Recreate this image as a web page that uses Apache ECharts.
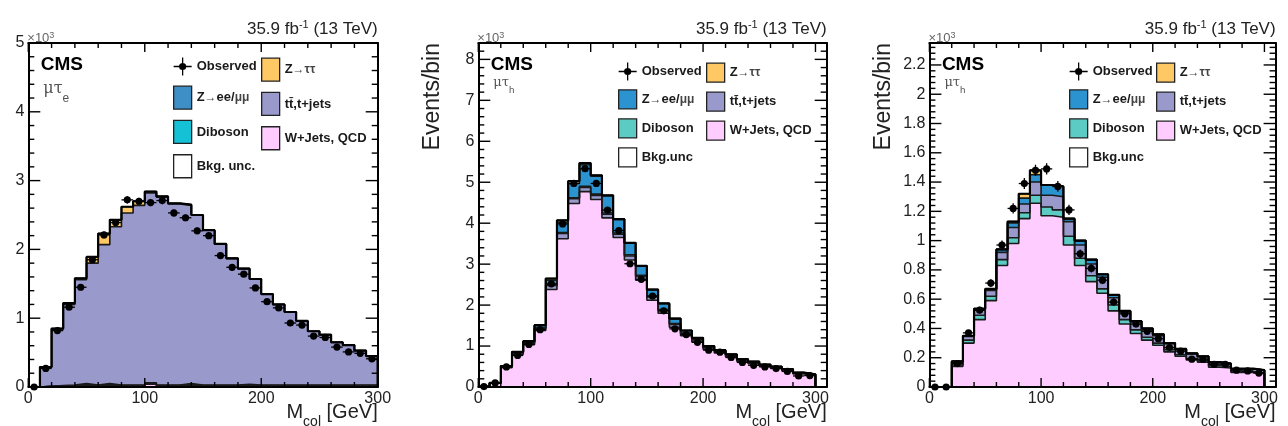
<!DOCTYPE html>
<html>
<head>
<meta charset="utf-8">
<script src="https://cdn.jsdelivr.net/npm/echarts@6/dist/echarts.min.js"></script>
<style>
  html, body { margin: 0; padding: 0; background: #fff; }
  #chart { width: 1288px; height: 426px; }
</style>
</head>
<body>
<div id="chart"></div>
<script>
// low edge of each 10 GeV bin of M_col
const binWidth = 10;
const binLow = [0, 10, 20, 30, 40, 50, 60, 70, 80, 90, 100, 110, 120, 130, 140, 150,
  160, 170, 180, 190, 200, 210, 220, 230, 240, 250, 260, 270, 280, 290];

// events/bin in units of 10^3
// mu tau_e
const obsE = [0, 0.27, 0.82, 1.16, 1.45, 1.85, 2.21, 2.39, 2.72, 2.70, 2.68, 2.71, 2.53, 2.46, 2.27,
  2.20, 1.91, 1.74, 1.64, 1.44, 1.24, 1.15, 0.93, 0.90, 0.74, 0.72, 0.58, 0.51, 0.49, 0.41];
const wjE = [0, 0.01, 0.01, 0.01, 0.03, 0.01, 0.03, 0.01, 0.01, 0.01, 0.04, 0.01, 0.01, 0.03, 0.01,
  0.01, 0.01, 0.01, 0.02, 0.01, 0.01, 0.01, 0.01, 0.01, 0.01, 0.01, 0.01, 0.01, 0.01, 0.01];
const dibE = [0, 0, 0, 0.01, 0.01, 0.01, 0.01, 0.01, 0.01, 0.01, 0.01, 0.01, 0.01, 0.01, 0.01,
  0.01, 0.01, 0.01, 0.01, 0.01, 0.01, 0.01, 0.01, 0.01, 0.01, 0.01, 0.01, 0.01, 0.01, 0.01];
const zllE = [0, 0, 0.01, 0.01, 0.01, 0.01, 0.01, 0.01, 0.01, 0.01, 0.01, 0.01, 0.01, 0.01, 0.01,
  0.01, 0.01, 0.01, 0.01, 0.01, 0.01, 0.01, 0.01, 0.01, 0.01, 0.01, 0.01, 0.01, 0.01, 0.01];
const ttE = [0, 0.28, 0.82, 1.17, 1.51, 1.77, 2.02, 2.30, 2.50, 2.61, 2.76, 2.73, 2.63, 2.59, 2.47,
  2.25, 2.05, 1.84, 1.68, 1.54, 1.32, 1.17, 1.06, 0.93, 0.78, 0.73, 0.62, 0.58, 0.50, 0.42];
const zttE = [0, 0, 0.01, 0.02, 0.02, 0.09, 0.16, 0.10, 0.09, 0.06, 0.02, 0.01, 0.01, 0.01, 0,
  0, 0, 0, 0, 0, 0, 0, 0, 0, 0, 0, 0, 0, 0, 0];

// mu tau_h (middle)
const obsH = [0.01, 0.10, 0.49, 0.77, 1.04, 1.40, 2.52, 3.98, 4.97, 5.33, 4.97, 4.32, 3.82, 3.01, 2.63,
  2.22, 1.86, 1.42, 1.28, 1.09, 0.90, 0.85, 0.72, 0.60, 0.53, 0.49, 0.45, 0.38, 0.27, 0.28];
const wjH = [0.01, 0.09, 0.47, 0.80, 1.03, 1.38, 2.38, 3.62, 4.48, 4.77, 4.58, 4.13, 3.65, 3.10, 2.61,
  2.12, 1.80, 1.46, 1.25, 1.10, 0.92, 0.83, 0.74, 0.63, 0.57, 0.51, 0.46, 0.40, 0.32, 0.28];
const ttH = [0, 0.01, 0.02, 0.03, 0.04, 0.05, 0.10, 0.13, 0.12, 0.10, 0.10, 0.09, 0.08, 0.10, 0.09,
  0.08, 0.07, 0.07, 0.05, 0.05, 0.04, 0.04, 0.03, 0.03, 0.03, 0.02, 0.02, 0.02, 0.02, 0.02];
const dibH = [0, 0, 0, 0.01, 0.01, 0.01, 0.01, 0.02, 0.02, 0.03, 0.03, 0.03, 0.03, 0.03, 0.03,
  0.02, 0.02, 0.02, 0.02, 0.01, 0.01, 0.01, 0.01, 0.01, 0.01, 0.01, 0.01, 0.01, 0, 0];
const zllH = [0, 0, 0.02, 0.02, 0.04, 0.06, 0.12, 0.25, 0.35, 0.53, 0.44, 0.42, 0.33, 0.29, 0.23,
  0.16, 0.15, 0.12, 0.06, 0.04, 0.03, 0.02, 0.02, 0.01, 0.01, 0.01, 0.01, 0.01, 0.01, 0.01];
const zttH = [0, 0, 0, 0, 0, 0.01, 0.04, 0.05, 0.06, 0.04, 0.02, 0.01, 0.01, 0, 0,
  0, 0, 0, 0, 0, 0, 0, 0, 0, 0, 0, 0, 0, 0, 0];

// mu tau_h (right)
const obsM = [0, 0, 0.16, 0.37, 0.525, 0.71, 0.97, 1.22, 1.39, 1.48, 1.49, 1.37, 1.21, 0.91, 0.81,
  0.73, 0.58, 0.50, 0.43, 0.38, 0.33, 0.27, 0.245, 0.19, 0.19, 0.155, 0.155, 0.115, 0.11, 0.095];
const wjM = [0, 0, 0.14, 0.30, 0.46, 0.59, 0.83, 0.98, 1.15, 1.255, 1.17, 1.16, 0.97, 0.83, 0.72,
  0.64, 0.52, 0.43, 0.365, 0.32, 0.285, 0.24, 0.21, 0.185, 0.17, 0.135, 0.13, 0.10, 0.10, 0.09];
const dibM = [0, 0, 0.01, 0.02, 0.03, 0.03, 0.04, 0.04, 0.04, 0.055, 0.06, 0.05, 0.06, 0.05, 0.04,
  0.03, 0.04, 0.03, 0.025, 0.02, 0.015, 0.015, 0.01, 0.01, 0.01, 0.01, 0.01, 0.005, 0.005, 0.005];
const ttM = [0, 0, 0.02, 0.025, 0.035, 0.04, 0.05, 0.07, 0.06, 0.09, 0.08, 0.09, 0.10, 0.09, 0.08,
  0.08, 0.05, 0.05, 0.055, 0.05, 0.05, 0.04, 0.035, 0.03, 0.025, 0.02, 0.02, 0.02, 0.02, 0.02];
const zllM = [0, 0, 0.005, 0.005, 0.01, 0.01, 0.02, 0.03, 0.04, 0.05, 0.07, 0.07, 0.02, 0.03, 0.03,
  0.02, 0.02, 0.01, 0.005, 0.01, 0.01, 0.005, 0.005, 0.005, 0.005, 0.005, 0, 0, 0, 0];
const zttM = [0, 0, 0, 0, 0, 0, 0, 0.01, 0.03, 0.03, 0, 0, 0, 0, 0,
  0, 0, 0, 0, 0, 0, 0, 0, 0, 0, 0, 0, 0, 0, 0];

const xTickMajor = 100, xTickMinor = 20, xTickLast = 300;

const FONT = '"Liberation Sans", Arial, Helvetica, sans-serif';
const C = {
  ztt: '#fec865', zll1: '#3d8fc6', zll: '#2b93cf', tt: '#9999cc',
  dib1: '#14c1d5', dib: '#5ccbc3', wj: '#ffccff'
};

const N_ZTT = 'Z→ττ', N_ZLL = 'Z→ee/μμ', N_TT = 'tt\u0304,t+jets', N_DIB = 'Diboson', N_WJ = 'W+Jets, QCD';

const panels = [
  { left: 28.3, width: 349.4, xMax: 300, yMax: 5, yMaj: 1, yMin: 0.2, chan: 'e', chanSize: 16, chanTop: 81,
    obs: obsE, unc: 'Bkg. unc.', legH: 23, legGap: 10, legTop: 57.5, legX: [144.7, 232.7], yTitle: false,
    layers: [[N_WJ, wjE, C.wj], [N_DIB, dibE, C.dib1], [N_ZLL, zllE, C.zll1], [N_TT, ttE, C.tt], [N_ZTT, zttE, C.ztt]] },
  { left: 478.3, width: 348.4, xMax: 310, yMax: 8.4, yMaj: 1, yMin: 0.2, chan: 'h', chanSize: 13, chanTop: 76,
    obs: obsH, unc: 'Bkg.unc', legH: 19, legGap: 8.7, legTop: 62.5, legX: [139.7, 227.7], yTitle: true,
    layers: [[N_WJ, wjH, C.wj], [N_TT, ttH, C.tt], [N_DIB, dibH, C.dib], [N_ZLL, zllH, C.zll], [N_ZTT, zttH, C.ztt]] },
  { left: 929.4, width: 346.2, xMax: 310, yMax: 2.35, yMaj: 0.2, yMin: 0.04, chan: 'h', chanSize: 13, chanTop: 76,
    obs: obsM, unc: 'Bkg.unc', legH: 19, legGap: 8.7, legTop: 62.5, legX: [139.6, 226.6], yTitle: true,
    layers: [[N_WJ, wjM, C.wj], [N_DIB, dibM, C.dib], [N_TT, ttM, C.tt], [N_ZLL, zllM, C.zll], [N_ZTT, zttM, C.ztt]] }
];

// data point with error cross, as legend icon
const OBS_ICON = 'path://M0,9.3h20v1.4h-20z M9.3,0h1.4v20h-1.4z M14,10a4,4 0 1,1 -8,0a4,4 0 1,1 8,0z';

const legendLabels = {
  'Observed': '{b|Observed}',
  [N_ZTT]: '{b|Z}{l|→ττ}',
  [N_ZLL]: '{b|Z}{l|→}{b|ee/}{l|μμ}',
  [N_TT]: '{b|' + N_TT + '}',
  [N_DIB]: '{b|Diboson}',
  [N_WJ]: '{b|W+Jets, QCD}'
};

function stepData(vals) {
  const pts = binLow.map((x, i) => [x, vals[i]]);
  const end = binLow[binLow.length - 1] + binWidth;
  pts.push([end, vals[vals.length - 1]], [end, 0]);
  return pts;
}

// tick positions from 0 up to `last` every `step`
function ticksUpTo(last, step) {
  const out = [];
  const n = Math.round(last / step + 1e-9);
  for (let i = 0; i <= n; i++) out.push(+(i * step).toFixed(6));
  return out;
}

const frameLine = { show: true, onZero: false, lineStyle: { color: '#000', width: 2 } };

const grid = [], xAxis = [], yAxis = [], series = [], legend = [], graphic = [];

panels.forEach((P, g) => {
  const right = P.left + P.width;
  grid.push({ left: P.left, top: 43, width: P.width, height: 344, outerBoundsMode: 'none', containLabel: false });

  const xb = { type: 'value', gridIndex: g, min: 0, max: P.xMax, interval: xTickMajor, z: 10,
    splitLine: { show: false }, axisTick: { show: false }, axisLine: frameLine };
  xAxis.push(
    { ...xb, position: 'bottom',
      axisLabel: { show: true, color: '#222', fontFamily: FONT, fontSize: 16, margin: 4, showMaxLabel: P.xMax % xTickMajor === 0 } },
    { ...xb, position: 'top', axisLabel: { show: false } }
  );
  const yb = { type: 'value', gridIndex: g, min: 0, max: P.yMax, interval: P.yMaj, z: 10,
    splitLine: { show: false }, axisTick: { show: false }, axisLine: frameLine };
  const topIsTick = Math.abs(P.yMax / P.yMaj - Math.round(P.yMax / P.yMaj)) < 1e-6;
  yAxis.push(
    { ...yb, position: 'left',
      axisLabel: { show: true, color: '#222', fontFamily: FONT, fontSize: 16, margin: 4, showMaxLabel: topIsTick } },
    { ...yb, position: 'right', axisLabel: { show: false } }
  );
  const xi = g * 2, yi = g * 2;
  P.xi = xi; P.yi = yi;

  // stacked tops, bottom layer first
  let cum = binLow.map(() => 0);
  const tops = P.layers.map(L => (cum = cum.map((c, i) => c + L[1][i])));
  // ROOT-like: draw the full stack first, lower sums overdraw it
  for (let k = P.layers.length - 1; k >= 0; k--) {
    series.push({
      type: 'line', name: P.layers[k][0], xAxisIndex: xi, yAxisIndex: yi, data: stepData(tops[k]),
      step: 'end', symbol: 'none', silent: true, z: 2,
      lineStyle: { color: '#1a1a1a', width: 1.6 }, itemStyle: { color: P.layers[k][2] },
      areaStyle: { color: P.layers[k][2], opacity: 1 }
    });
  }
  series.push({
    type: 'line', name: 'outline' + g, xAxisIndex: xi, yAxisIndex: yi, data: stepData(tops[tops.length - 1]),
    step: 'end', symbol: 'none', silent: true, z: 3, lineStyle: { color: '#000', width: 2.2 }
  });
  series.push({ type: 'line', name: P.unc, xAxisIndex: xi, yAxisIndex: yi, data: [], itemStyle: { color: '#fff' } });

  // inward ticks on all four sides: [side, value, isMajor]
  const tickRows = [];
  const yTop = Math.floor(P.yMax / P.yMaj + 1e-9) * P.yMaj;
  const xMajSet = ticksUpTo(xTickLast, xTickMajor), yMajSet = ticksUpTo(yTop, P.yMaj);
  ticksUpTo(xTickLast, xTickMinor).forEach(v => {
    const maj = xMajSet.includes(v) ? 1 : 0;
    tickRows.push([0, v, maj], [1, v, maj]);
  });
  ticksUpTo(Math.floor(P.yMax / P.yMin + 1e-9) * P.yMin, P.yMin).forEach(v => {
    const maj = yMajSet.some(m => Math.abs(m - v) < 1e-6) ? 1 : 0;
    tickRows.push([2, v, maj], [3, v, maj]);
  });
  P.tickRows = tickRows;

  // observed: marker plus bin-width and poisson error bars
  const obsData = binLow.map((x, i) => [x + binWidth / 2, P.obs[i], Math.sqrt(P.obs[i] * 1000) / 1000]);
  series.push({
    type: 'custom', name: 'Observed', xAxisIndex: xi, yAxisIndex: yi, data: obsData, z: 5, silent: true,
    itemStyle: { color: '#000' },
    renderItem: (params, api) => {
      const x = api.value(0), y = api.value(1), e = api.value(2);
      const c = api.coord([x, y]);
      const l = api.coord([x - binWidth / 2, y]), r = api.coord([x + binWidth / 2, y]);
      const t = api.coord([x, y + e]), b = api.coord([x, Math.max(0, y - e)]);
      const st = { stroke: '#000', lineWidth: 1.3 };
      return { type: 'group', children: [
        { type: 'line', shape: { x1: l[0], y1: l[1], x2: r[0], y2: r[1] }, style: st },
        { type: 'line', shape: { x1: t[0], y1: t[1], x2: b[0], y2: b[1] }, style: st },
        { type: 'circle', shape: { cx: c[0], cy: c[1], r: 3.6 }, style: { fill: '#000' } }
      ] };
    }
  });

  // legend, two columns
  const colorOf = {};
  P.layers.forEach(L => { colorOf[L[0]] = L[2]; });
  const box = (name, color) => ({ name, icon: 'rect', itemStyle: { color, borderColor: '#222', borderWidth: 1.3 } });
  const legBase = {
    orient: 'vertical', padding: 0, top: P.legTop, itemWidth: 18, itemHeight: P.legH, itemGap: P.legGap,
    selectedMode: false, formatter: n => legendLabels[n] || '{b|' + n + '}',
    textStyle: { fontFamily: FONT, fontSize: 13, fontWeight: 'bold', color: '#1a1a1a',
      rich: { b: { fontFamily: FONT, fontSize: 13, fontWeight: 'bold', color: '#1a1a1a' },
              l: { fontFamily: FONT, fontSize: 12, color: '#444' } } }
  };
  legend.push({ ...legBase, left: P.left + P.legX[0], data: [
    { name: 'Observed', icon: OBS_ICON, itemStyle: { color: '#000', borderWidth: 0 } },
    box(N_ZLL, colorOf[N_ZLL]), box(N_DIB, colorOf[N_DIB]), box(P.unc, '#fff')
  ] });
  legend.push({ ...legBase, left: P.left + P.legX[1], data: [
    box(N_ZTT, colorOf[N_ZTT]), box(N_TT, colorOf[N_TT]), box(N_WJ, colorOf[N_WJ])
  ] });

  // texts
  graphic.push(
    { type: 'text', x: right, y: 19, silent: true, style: {
      text: '{m|35.9 fb}{s|-1}{m| (13 TeV)}', align: 'right', verticalAlign: 'top',
      rich: { m: { fontFamily: FONT, fontSize: 17, fill: '#222', verticalAlign: 'bottom', padding: [2, 0, 0, 0] },
              s: { fontFamily: FONT, fontSize: 11, fill: '#222', verticalAlign: 'top' } } } },
    { type: 'text', x: P.left - 1, y: 31, silent: true, style: {
      text: '{m|×10}{s|3}', align: 'left', verticalAlign: 'top',
      rich: { m: { fontFamily: FONT, fontSize: 13, fill: '#666', verticalAlign: 'bottom', padding: [1, 0, 0, 0] },
              s: { fontFamily: FONT, fontSize: 9, fill: '#666', verticalAlign: 'top' } } } },
    { type: 'text', x: P.left + 12.5, y: 65, silent: true, style: {
      text: 'CMS', fontFamily: FONT, fontSize: 19, fontWeight: 'bold', fill: '#000', align: 'left', verticalAlign: 'middle' } },
    { type: 'text', x: P.left + 15, y: P.chanTop, silent: true, style: {
      text: '{m|μτ}{s|' + P.chan + '}', align: 'left', verticalAlign: 'top',
      rich: { m: { fontFamily: '"DejaVu Serif", serif', fontSize: P.chanSize, fill: '#555', verticalAlign: 'top' },
              s: { fontFamily: FONT, fontSize: P.chanSize * 0.75, fill: '#555', verticalAlign: 'bottom',
                   padding: [P.chanSize * 0.7, 0, 0, 0] } } } },
    { type: 'text', x: right, y: 402, silent: true, style: {
      text: '{m|M}{s|col}{m| [GeV]}', align: 'right', verticalAlign: 'top',
      rich: { m: { fontFamily: FONT, fontSize: 20, fill: '#222', verticalAlign: 'top' },
              s: { fontFamily: FONT, fontSize: 14, fill: '#222', verticalAlign: 'bottom', padding: [13, 0, 0, 0] } } } }
  );
  if (P.yTitle) {
    graphic.push({ type: 'text', x: P.left - 46, y: 43, rotation: Math.PI / 2, silent: true, style: {
      text: 'Events/bin', fontFamily: FONT, fontSize: 23, fill: '#222', align: 'right', verticalAlign: 'middle' } });
  }
});

const chart = echarts.init(document.getElementById('chart'));
chart.setOption({ animation: false, backgroundColor: '#fff', grid, xAxis, yAxis, series, legend, graphic });

// ticks placed through the axes' own scales once the layout exists
const tickEls = [];
panels.forEach(P => {
  const finder = { xAxisIndex: P.xi, yAxisIndex: P.yi };
  P.tickRows.forEach(([side, v, maj]) => {
    const w = 1.4;
    if (side < 2) {
      const len = maj ? 9 : 5;
      const p = chart.convertToPixel(finder, [v, side === 0 ? 0 : P.yMax]);
      const y0 = side === 0 ? p[1] - len : p[1];
      tickEls.push({ type: 'rect', z: 100, silent: true, shape: { x: p[0] - w / 2, y: y0, width: w, height: len }, style: { fill: '#000' } });
    } else {
      const len = maj ? 12 : 6;
      const p = chart.convertToPixel(finder, [side === 2 ? 0 : P.xMax, v]);
      const x0 = side === 2 ? p[0] : p[0] - len;
      tickEls.push({ type: 'rect', z: 100, silent: true, shape: { x: x0, y: p[1] - w / 2, width: len, height: w }, style: { fill: '#000' } });
    }
  });
});
chart.setOption({ graphic: graphic.concat(tickEls) });
</script>
</body>
</html>
